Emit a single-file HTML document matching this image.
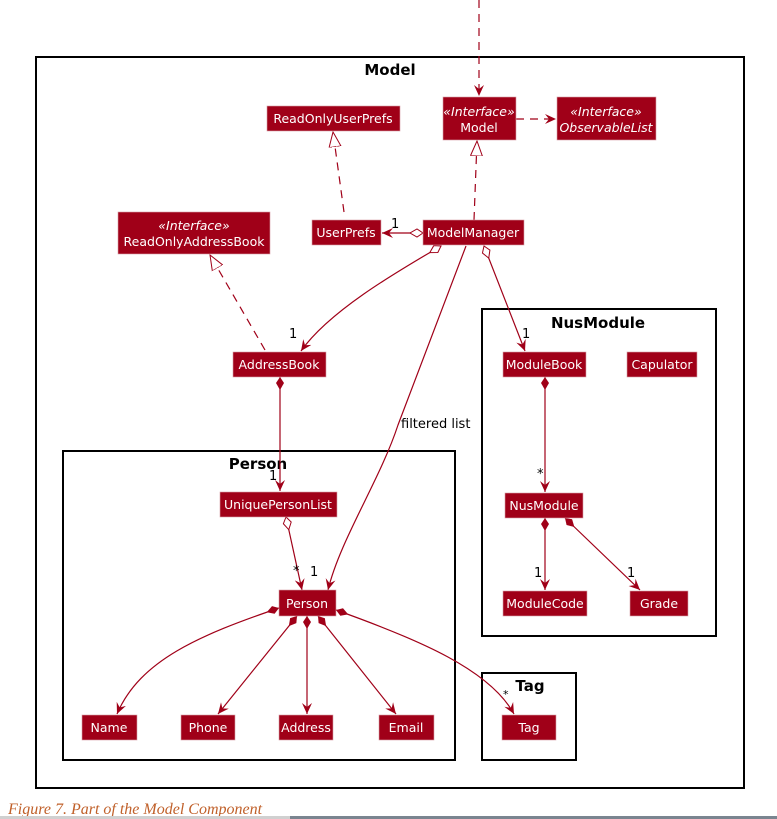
<!DOCTYPE html>
<html><head><meta charset="utf-8"><style>
html,body{margin:0;padding:0;background:#fff;width:777px;height:819px;overflow:hidden}
</style></head><body>
<svg width="777" height="819" viewBox="0 0 777 819" xmlns="http://www.w3.org/2000/svg" font-family="DejaVu Sans, Liberation Sans, sans-serif">
<defs>
<marker id="arr" viewBox="0 0 12 12" refX="11" refY="6" markerWidth="12" markerHeight="12" markerUnits="userSpaceOnUse" orient="auto"><path d="M0,1 L11,6 L0,11 L4,6 Z" fill="#a00018"/></marker>
<marker id="tri" viewBox="0 0 16 16" refX="15" refY="8" markerWidth="16" markerHeight="16" markerUnits="userSpaceOnUse" orient="auto"><path d="M0,2 L15,8 L0,14 Z" fill="#fff" stroke="#a00018" stroke-width="1"/></marker>
<marker id="fd" viewBox="0 0 16 10" refX="1" refY="5" markerWidth="16" markerHeight="10" markerUnits="userSpaceOnUse" orient="auto"><path d="M1,5 L7,1 L14,5 L7,9 Z" fill="#a00018"/></marker>
<marker id="od" viewBox="0 0 16 10" refX="1" refY="5" markerWidth="16" markerHeight="10" markerUnits="userSpaceOnUse" orient="auto"><path d="M1,5 L7,1 L14,5 L7,9 Z" fill="#fff" stroke="#a00018" stroke-width="1"/></marker>
</defs>
<g fill="none" stroke="#000" stroke-width="2">
<rect x="36" y="57" width="708" height="731"/>
<rect x="63" y="451" width="392" height="309"/>
<rect x="482" y="309" width="234" height="327"/>
<rect x="482" y="673" width="94" height="87"/>
</g>
<g font-weight="bold" font-size="15" fill="#000" text-anchor="middle">
<text x="390" y="75">Model</text><text x="258" y="469">Person</text><text x="598" y="328">NusModule</text><text x="530" y="691">Tag</text>
</g>
<g fill="none" stroke="#a00018" stroke-width="1.2">
<path d="M479,0 L479,96" stroke-dasharray="8,6" marker-end="url(#arr)"/>
<path d="M516,119 L556,119" stroke-dasharray="8,6" marker-end="url(#arr)"/>
<path d="M474,220 L477,141" stroke-dasharray="8,6" marker-end="url(#tri)"/>
<path d="M344,212 L333,132" stroke-dasharray="8,6" marker-end="url(#tri)"/>
<path d="M265,350 L210,255" stroke-dasharray="8,6" marker-end="url(#tri)"/>
<path d="M423,233 L382,233" marker-start="url(#od)" marker-end="url(#arr)"/>
<path d="M441,246 C400,270 330,310 301,351" marker-start="url(#od)" marker-end="url(#arr)"/>
<path d="M466,246 L398,425 C380,480 340,540 328,590" marker-end="url(#arr)"/>
<path d="M484,246 L525,351" marker-start="url(#od)" marker-end="url(#arr)"/>
<path d="M280,377 L280,491" marker-start="url(#fd)" marker-end="url(#arr)"/>
<path d="M286,517 L302,590" marker-start="url(#od)" marker-end="url(#arr)"/>
<path d="M545,377 L545,492" marker-start="url(#fd)" marker-end="url(#arr)"/>
<path d="M545,518 L545,590" marker-start="url(#fd)" marker-end="url(#arr)"/>
<path d="M565,518 L640,590" marker-start="url(#fd)" marker-end="url(#arr)"/>
<path d="M279,608 C200,635 140,660 117,714" marker-start="url(#fd)" marker-end="url(#arr)"/>
<path d="M297,616 L218,714" marker-start="url(#fd)" marker-end="url(#arr)"/>
<path d="M307,616 L307,714" marker-start="url(#fd)" marker-end="url(#arr)"/>
<path d="M318,616 L396,714" marker-start="url(#fd)" marker-end="url(#arr)"/>
<path d="M336,610 C420,640 490,670 514,714" marker-start="url(#fd)" marker-end="url(#arr)"/>
</g>
<g fill="#000" font-size="13">
<text x="391" y="228">1</text><text x="289" y="338">1</text><text x="522" y="338">1</text>
<text x="269" y="480">1</text><text x="293" y="575">*</text><text x="310" y="576">1</text>
<text x="537" y="478">*</text><text x="534" y="577">1</text><text x="627" y="577">1</text>
<text x="503" y="698" font-size="11">*</text>
<text x="401" y="428" font-size="13">filtered list</text>
</g>
<g fill="#a00018" stroke="#d8a0a8" stroke-width="0.6">
<rect x="267" y="106" width="133" height="25"/>
<rect x="443" y="97" width="73" height="43"/>
<rect x="557" y="97" width="99" height="43"/>
<rect x="118" y="212" width="152" height="42"/>
<rect x="312" y="220" width="69" height="25"/>
<rect x="423" y="220" width="101" height="25"/>
<rect x="233" y="352" width="93" height="25"/>
<rect x="503" y="352" width="83" height="25"/>
<rect x="627" y="352" width="70" height="25"/>
<rect x="220" y="492" width="117" height="25"/>
<rect x="505" y="493" width="78" height="25"/>
<rect x="279" y="590" width="57" height="26"/>
<rect x="503" y="591" width="84" height="25"/>
<rect x="630" y="591" width="58" height="25"/>
<rect x="82" y="715" width="55" height="25"/>
<rect x="181" y="715" width="54" height="25"/>
<rect x="279" y="715" width="54" height="25"/>
<rect x="379" y="715" width="55" height="25"/>
<rect x="502" y="715" width="54" height="25"/>
</g>
<g fill="#fff" font-size="12.5" text-anchor="middle">
<text x="333" y="123">ReadOnlyUserPrefs</text>
<text x="479" y="116" font-style="italic">«Interface»</text><text x="479" y="132">Model</text>
<text x="606" y="116" font-style="italic">«Interface»</text><text x="606" y="132" font-style="italic">ObservableList</text>
<text x="194" y="230" font-style="italic">«Interface»</text><text x="194" y="246">ReadOnlyAddressBook</text>
<text x="346" y="237">UserPrefs</text>
<text x="473" y="237">ModelManager</text>
<text x="279" y="369">AddressBook</text>
<text x="544" y="369">ModuleBook</text>
<text x="662" y="369">Capulator</text>
<text x="278" y="509">UniquePersonList</text>
<text x="544" y="510">NusModule</text>
<text x="307" y="608">Person</text>
<text x="545" y="608">ModuleCode</text>
<text x="659" y="608">Grade</text>
<text x="109" y="732">Name</text>
<text x="208" y="732">Phone</text>
<text x="306" y="732">Address</text>
<text x="406" y="732">Email</text>
<text x="529" y="732">Tag</text>
</g>
<text x="8" y="814" style="font-family:'Liberation Serif',serif;font-style:italic;font-size:16px" fill="#c0602a">Figure 7. Part of the Model Component</text>
<rect x="0" y="816" width="290" height="3" fill="#d0d0d0"/>
<rect x="290" y="816" width="487" height="3" fill="#7a8590"/>
</svg>
</body></html>
